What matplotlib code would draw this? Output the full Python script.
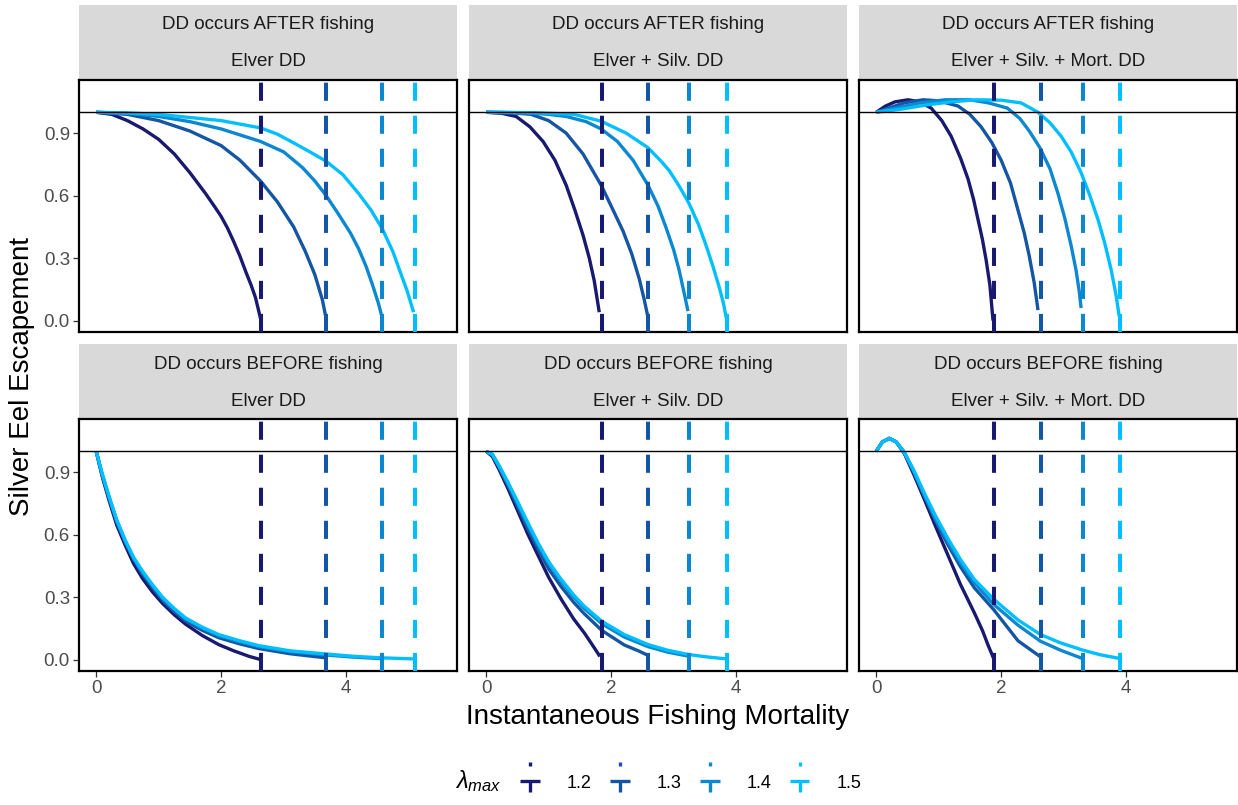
import numpy as np
import matplotlib.pyplot as plt
from matplotlib.lines import Line2D
from matplotlib.legend_handler import HandlerBase

plt.rcParams['font.family'] = ['Liberation Sans', 'DejaVu Sans']
plt.rcParams['mathtext.fontset'] = 'custom'
plt.rcParams['mathtext.rm'] = 'Liberation Sans'
plt.rcParams['mathtext.it'] = 'Liberation Sans:italic'

# lambda_max levels and their colours
LAMBDA = ['1.2', '1.3', '1.4', '1.5']
COLORS = ['#191970', '#1456A3', '#0C88D0', '#00BFFF']

TIMING = ['DD occurs AFTER fishing', 'DD occurs BEFORE fishing']
MODELS = ['Elver DD', 'Elver + Silv. DD', 'Elver + Silv. + Mort. DD']

# F at which escapement hits zero (vertical reference lines), one list per DD model
F_LIM_ELVER = [2.63, 3.68, 4.58, 5.11]
F_LIM_SILV = [1.85, 2.59, 3.24, 3.85]
F_LIM_MORT = [1.88, 2.63, 3.31, 3.90]

# ---- DD after fishing, elver DD
F_AE_12 = [0, 0.25, 0.5, 0.75, 1.0, 1.25, 1.5, 1.75, 1.9, 2.0, 2.1, 2.2, 2.3, 2.4, 2.48, 2.55, 2.63]
E_AE_12 = [1.0, 0.99, 0.96, 0.92, 0.87, 0.80, 0.71, 0.61, 0.545, 0.50, 0.445, 0.38, 0.31, 0.23, 0.17, 0.11, 0.01]
F_AE_13 = [0, 0.5, 1.0, 1.5, 2.0, 2.3, 2.63, 2.9, 3.16, 3.35, 3.5, 3.62, 3.68]
E_AE_13 = [1.0, 0.99, 0.96, 0.91, 0.84, 0.77, 0.67, 0.57, 0.45, 0.33, 0.22, 0.10, 0.01]
F_AE_14 = [0, 0.5, 1.0, 1.5, 2.0, 2.63, 3.0, 3.3, 3.5, 3.68, 3.88, 4.07, 4.2, 4.32, 4.43, 4.52, 4.58]
E_AE_14 = [1.0, 0.995, 0.98, 0.955, 0.92, 0.86, 0.81, 0.735, 0.67, 0.60, 0.51, 0.42, 0.345, 0.26, 0.165, 0.08, 0.01]
F_AE_15 = [0, 0.5, 1.0, 1.5, 2.0, 2.63, 2.9, 3.16, 3.42, 3.68, 3.95, 4.2, 4.4, 4.58, 4.75, 4.87, 4.98, 5.08]
E_AE_15 = [1.0, 0.997, 0.99, 0.975, 0.96, 0.925, 0.895, 0.853, 0.81, 0.765, 0.70, 0.61, 0.53, 0.44, 0.33, 0.23, 0.14, 0.04]

# ---- DD after fishing, elver + silvering DD
F_AS_12 = [0, 0.25, 0.48, 0.7, 0.91, 1.1, 1.28, 1.42, 1.55, 1.65, 1.73, 1.81]
E_AS_12 = [1.0, 0.995, 0.98, 0.93, 0.86, 0.77, 0.65, 0.53, 0.41, 0.30, 0.19, 0.04]
F_AS_13 = [0, 0.4, 0.72, 1.0, 1.28, 1.55, 1.84, 2.0, 2.19, 2.33, 2.45, 2.53, 2.59]
E_AS_13 = [1.0, 0.998, 0.99, 0.96, 0.90, 0.80, 0.65, 0.55, 0.43, 0.32, 0.20, 0.10, 0.015]
F_AS_14 = [0, 0.6, 1.0, 1.28, 1.6, 1.84, 2.1, 2.35, 2.59, 2.75, 2.88, 3.0, 3.09, 3.17, 3.23]
E_AS_14 = [1.0, 0.998, 0.99, 0.98, 0.955, 0.92, 0.86, 0.77, 0.65, 0.55, 0.445, 0.34, 0.24, 0.13, 0.045]
F_AS_15 = [0, 0.8, 1.41, 1.84, 2.24, 2.59, 2.8, 2.93, 3.1, 3.25, 3.4, 3.52, 3.63, 3.73, 3.8, 3.84]
E_AS_15 = [1.0, 0.998, 0.99, 0.957, 0.90, 0.83, 0.765, 0.72, 0.64, 0.56, 0.46, 0.36, 0.26, 0.16, 0.08, 0.015]

# ---- DD after fishing, elver + silvering + mortality DD
F_AM_12 = [0, 0.15, 0.3, 0.51, 0.7, 0.88, 1.05, 1.2, 1.35, 1.47, 1.56, 1.63, 1.7, 1.76, 1.82, 1.87]
E_AM_12 = [1.0, 1.03, 1.05, 1.06, 1.05, 1.02, 0.96, 0.885, 0.78, 0.68, 0.58, 0.485, 0.39, 0.29, 0.17, 0.0]
F_AM_13 = [0, 0.2, 0.45, 0.75, 1.0, 1.31, 1.5, 1.68, 1.85, 2.0, 2.15, 2.27, 2.37, 2.45, 2.53, 2.59]
E_AM_13 = [1.0, 1.02, 1.045, 1.06, 1.055, 1.03, 0.99, 0.93, 0.855, 0.77, 0.66, 0.53, 0.42, 0.31, 0.18, 0.05]
F_AM_14 = [0, 0.3, 0.7, 1.1, 1.5, 1.8, 2.1, 2.3, 2.45, 2.62, 2.78, 2.91, 3.02, 3.12, 3.2, 3.25, 3.28]
E_AM_14 = [1.0, 1.02, 1.045, 1.06, 1.06, 1.045, 1.02, 0.97, 0.91, 0.83, 0.73, 0.61, 0.49, 0.36, 0.24, 0.14, 0.06]
F_AM_15 = [0, 0.4, 0.8, 1.2, 1.6, 2.0, 2.32, 2.59, 2.78, 2.96, 3.12, 3.28, 3.42, 3.55, 3.66, 3.76, 3.84, 3.89]
E_AM_15 = [1.0, 1.015, 1.035, 1.05, 1.06, 1.058, 1.045, 1.0, 0.95, 0.885, 0.81, 0.71, 0.60, 0.485, 0.37, 0.245, 0.12, 0.02]

# ---- DD before fishing, elver DD
F_BE_12 = [0, 0.1, 0.2, 0.33, 0.47, 0.6, 0.74, 0.9, 1.06, 1.25, 1.43, 1.7, 1.96, 2.2, 2.45, 2.63]
E_BE_12 = [1.0, 0.875, 0.77, 0.645, 0.545, 0.46, 0.39, 0.325, 0.27, 0.215, 0.17, 0.115, 0.072, 0.042, 0.015, 0.0]
F_BE_13 = [0, 0.1, 0.2, 0.33, 0.47, 0.6, 0.74, 0.9, 1.06, 1.25, 1.43, 1.7, 1.96, 2.3, 2.6, 3.1, 3.68]
E_BE_13 = [1.0, 0.88, 0.78, 0.66, 0.56, 0.48, 0.41, 0.345, 0.285, 0.23, 0.185, 0.14, 0.105, 0.075, 0.053, 0.028, 0.008]
F_BE_14 = [0, 0.1, 0.2, 0.33, 0.47, 0.6, 0.74, 0.9, 1.06, 1.25, 1.43, 1.7, 1.96, 2.3, 2.6, 3.1, 3.67, 4.1, 4.58]
E_BE_14 = [1.0, 0.885, 0.785, 0.665, 0.565, 0.485, 0.42, 0.355, 0.295, 0.24, 0.195, 0.15, 0.115, 0.085, 0.062, 0.038, 0.022, 0.012, 0.004]
F_BE_15 = [0, 0.1, 0.2, 0.33, 0.47, 0.6, 0.74, 0.9, 1.06, 1.25, 1.43, 1.7, 1.96, 2.3, 2.6, 3.1, 3.67, 4.1, 4.58, 5.1]
E_BE_15 = [1.0, 0.89, 0.79, 0.67, 0.57, 0.49, 0.425, 0.36, 0.30, 0.245, 0.20, 0.155, 0.12, 0.09, 0.067, 0.042, 0.027, 0.016, 0.008, 0.003]

# ---- DD before fishing, elver + silvering DD
F_BS_12 = [0, 0.1, 0.21, 0.35, 0.51, 0.67, 0.83, 1.0, 1.2, 1.4, 1.57, 1.7, 1.82]
E_BS_12 = [1.0, 0.975, 0.91, 0.82, 0.71, 0.60, 0.50, 0.395, 0.29, 0.195, 0.128, 0.07, 0.015]
F_BS_13 = [0, 0.1, 0.21, 0.35, 0.51, 0.67, 0.83, 1.0, 1.2, 1.4, 1.57, 1.85, 2.21, 2.45, 2.59]
E_BS_13 = [1.0, 0.98, 0.92, 0.835, 0.73, 0.625, 0.53, 0.435, 0.35, 0.275, 0.22, 0.14, 0.07, 0.04, 0.02]
F_BS_14 = [0, 0.1, 0.21, 0.35, 0.51, 0.67, 0.83, 1.0, 1.2, 1.4, 1.57, 1.85, 2.21, 2.59, 2.9, 3.24]
E_BS_14 = [1.0, 0.985, 0.925, 0.845, 0.745, 0.645, 0.55, 0.46, 0.375, 0.30, 0.245, 0.172, 0.108, 0.062, 0.036, 0.016]
F_BS_15 = [0, 0.1, 0.21, 0.35, 0.51, 0.67, 0.83, 1.0, 1.2, 1.4, 1.57, 1.85, 2.21, 2.59, 2.9, 3.24, 3.55, 3.85]
E_BS_15 = [1.0, 0.985, 0.93, 0.85, 0.754, 0.655, 0.56, 0.47, 0.385, 0.31, 0.256, 0.184, 0.12, 0.072, 0.045, 0.024, 0.012, 0.003]

# ---- DD before fishing, elver + silvering + mortality DD
F_BM_12 = [0, 0.1, 0.21, 0.32, 0.45, 0.6, 0.77, 0.95, 1.15, 1.35, 1.57, 1.7, 1.79, 1.88]
E_BM_12 = [1.0, 1.045, 1.062, 1.045, 0.99, 0.89, 0.77, 0.64, 0.50, 0.36, 0.225, 0.14, 0.07, 0.005]
F_BM_13 = [0, 0.1, 0.21, 0.32, 0.45, 0.6, 0.77, 0.95, 1.15, 1.35, 1.57, 1.88, 2.27, 2.63]
E_BM_13 = [1.0, 1.045, 1.062, 1.045, 0.995, 0.90, 0.785, 0.665, 0.55, 0.445, 0.345, 0.24, 0.09, 0.013]
F_BM_14 = [0, 0.1, 0.21, 0.32, 0.45, 0.6, 0.77, 0.95, 1.15, 1.35, 1.57, 1.88, 2.27, 2.63, 2.95, 3.31]
E_BM_14 = [1.0, 1.045, 1.062, 1.045, 0.995, 0.905, 0.79, 0.675, 0.565, 0.465, 0.37, 0.265, 0.165, 0.088, 0.045, 0.004]
F_BM_15 = [0, 0.1, 0.21, 0.32, 0.45, 0.6, 0.77, 0.95, 1.15, 1.35, 1.57, 1.88, 2.27, 2.63, 2.95, 3.31, 3.6, 3.9]
E_BM_15 = [1.0, 1.045, 1.062, 1.045, 0.995, 0.91, 0.80, 0.69, 0.58, 0.48, 0.385, 0.29, 0.19, 0.12, 0.08, 0.045, 0.022, 0.005]

curves = [
    [[(F_AE_12, E_AE_12), (F_AE_13, E_AE_13), (F_AE_14, E_AE_14), (F_AE_15, E_AE_15)],
     [(F_AS_12, E_AS_12), (F_AS_13, E_AS_13), (F_AS_14, E_AS_14), (F_AS_15, E_AS_15)],
     [(F_AM_12, E_AM_12), (F_AM_13, E_AM_13), (F_AM_14, E_AM_14), (F_AM_15, E_AM_15)]],
    [[(F_BE_12, E_BE_12), (F_BE_13, E_BE_13), (F_BE_14, E_BE_14), (F_BE_15, E_BE_15)],
     [(F_BS_12, E_BS_12), (F_BS_13, E_BS_13), (F_BS_14, E_BS_14), (F_BS_15, E_BS_15)],
     [(F_BM_12, E_BM_12), (F_BM_13, E_BM_13), (F_BM_14, E_BM_14), (F_BM_15, E_BM_15)]],
]
f_limits = [F_LIM_ELVER, F_LIM_SILV, F_LIM_MORT]

W, H = 1238, 805
fig = plt.figure(figsize=(W / 100, H / 100), dpi=100)


def px_axes(left, top, width, height):
    return fig.add_axes([left / W, 1 - (top + height) / H, width / W, height / H])


col_left = [79, 469, 859]
panel_w = 378
row_top = [80, 419]
panel_h = 252
strip_top = [5, 344]
strip_h = 74

for r in range(2):
    for c in range(3):
        # strip with the two facet labels
        st = px_axes(col_left[c], strip_top[r], panel_w, strip_h)
        st.set_facecolor('#D9D9D9')
        st.set_xticks([])
        st.set_yticks([])
        for s in st.spines.values():
            s.set_visible(False)
        st.text(0.5, 1 - 20 / strip_h, TIMING[r], ha='center', va='center',
                fontsize=13.5, color='#1A1A1A', transform=st.transAxes)
        st.text(0.5, 1 - 57 / strip_h, MODELS[c], ha='center', va='center',
                fontsize=13.5, color='#1A1A1A', transform=st.transAxes)

        ax = px_axes(col_left[c], row_top[r], panel_w, panel_h)
        for (fx, ey), col in zip(curves[r][c], COLORS):
            ax.plot(fx, ey, color=col, lw=2.4, solid_capstyle='butt', zorder=2)
        ax.axhline(1, color='black', lw=1.0, zorder=3)
        for fl, col in zip(f_limits[c], COLORS):
            ax.axvline(fl, color=col, lw=2.9, linestyle=(0, (4.5, 3.7)), zorder=4)

        ax.set_xlim(-0.275, 5.775)
        ax.set_ylim(-0.055, 1.155)
        ax.set_xticks([0, 2, 4])
        ax.set_yticks([0, 0.3, 0.6, 0.9])
        ax.set_yticklabels(['0.0', '0.3', '0.6', '0.9'])
        for s in ax.spines.values():
            s.set_linewidth(1.6)
            s.set_color('black')
        ax.tick_params(length=4, width=0.9, color='#333333', labelcolor='#4D4D4D',
                       labelsize=13.5, pad=2.5)
        if c > 0:
            ax.tick_params(axis='y', left=False, labelleft=False)
        if r == 0:
            ax.tick_params(axis='x', bottom=False, labelbottom=False)

fig.text(658 / W, 1 - 717 / H, 'Instantaneous Fishing Mortality', ha='center', va='center',
         fontsize=20, color='black')
fig.text(22 / W, 1 - 376 / H, 'Silver Eel Escapement', ha='center', va='center',
         rotation=90, fontsize=20, color='black')


class LimitKey(HandlerBase):
    # legend key: short solid line with a dashed vertical line hanging from it
    def create_artists(self, legend, orig_handle, xdescent, ydescent, width, height, fontsize, trans):
        col = orig_handle.get_color()
        yc = height / 2 - ydescent
        xc = width / 2 - xdescent
        horiz = Line2D([-xdescent, width - xdescent], [yc, yc], color=col, lw=2.4,
                       solid_capstyle='butt', transform=trans)
        top = Line2D([xc, xc], [yc + 13.7, yc + 10.8], color=col, lw=2.4,
                     solid_capstyle='butt', transform=trans)
        low = Line2D([xc, xc], [yc + 1.0, yc - 8.0], color=col, lw=2.4,
                     solid_capstyle='butt', transform=trans)
        return [horiz, top, low]


handles = [Line2D([], [], color=col) for col in COLORS]
fig.legend(handles, LAMBDA, handler_map={Line2D: LimitKey()}, ncol=4,
           loc='center left', bbox_to_anchor=(520 / W, 1 - 783 / H), frameon=False,
           fontsize=13, handlelength=1.1, handletextpad=1.5, columnspacing=1.0,
           borderpad=0, borderaxespad=0)
fig.text(455 / W, 1 - 781 / H, r'$\lambda_{max}$', ha='left', va='center', fontsize=17)

fig.savefig('out.png', dpi=100)
